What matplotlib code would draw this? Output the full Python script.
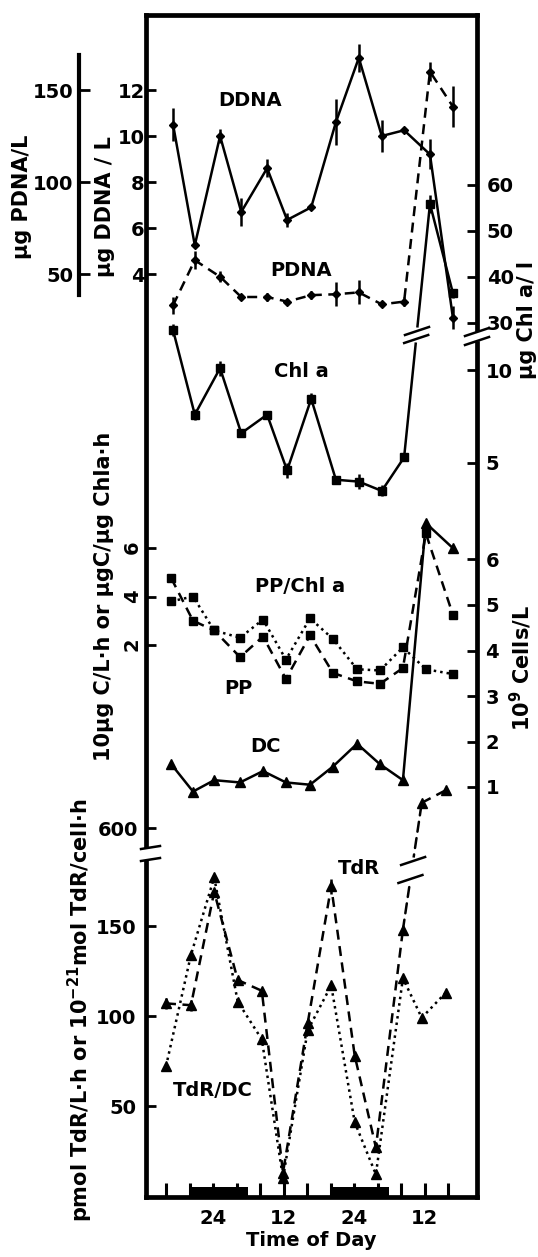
import matplotlib.pyplot as plt
from matplotlib.patches import ConnectionPatch, Rectangle
from matplotlib.lines import Line2D

plt.rcParams['font.family'] = ['DejaVu Sans']
plt.rcParams['font.weight'] = 'bold'
plt.rcParams['mathtext.default'] = 'bf'

# =========================
# DATA
# =========================
# sampling times, hours from midnight of day 1
hrs_dna = [17.2, 20.9, 25.2, 28.8, 33.2, 36.6, 40.7, 44.9, 48.8, 52.7, 56.5, 60.9, 64.8]
hrs_pp = [16.9, 20.6, 24.2, 28.6, 32.5, 36.4, 40.5, 44.4, 48.5, 52.4, 56.3, 60.2, 64.8]
hrs_tdr = [16.0, 20.25, 24.2, 28.2, 32.3, 35.9, 40.1, 44.1, 48.1, 51.7, 56.3, 59.5, 63.6]

ddna = [10.5, 5.25, 10.0, 6.7, 8.6, 6.35, 6.9, 10.6, 13.4, 10.0, 10.25, 9.2, 2.1]
ddna_err = [0.7, 0, 0.3, 0.6, 0.4, 0.3, 0, 1.0, 0.6, 0.7, 0, 0.65, 0.5]
pdna = [33, 57.5, 48.5, 37.5, 37.5, 35, 38.5, 39, 40, 33.5, 35, 160, 141]
pdna_err = [4.5, 5, 3, 0, 2, 0, 2, 6.5, 6.5, 0, 2.5, 5, 11]

# chl a: first 11 on the lower scale, last 2 above the break
chla = [12.15, 7.6, 10.1, 6.6, 7.6, 4.6, 8.45, 4.1, 4.0, 3.5, 5.3, 55.9, 36.5]
chla_err = [0.3, 0.3, 0.4, 0.2, 0.2, 0.4, 0.3, 0.2, 0.4, 0.3, 0.2, 2.0, 1.0]

pp = [4.75, 3.0, 2.6, 1.5, 2.35, 0.6, 2.4, 0.85, 0.5, 0.4, 1.05, 6.6, 3.25]
pp_chl = [3.8, 4.0, 2.6, 2.3, 3.05, 1.4, 3.1, 2.25, 1.0, 0.95, 1.9, 1.0, 0.8]
dc = [1.5, 0.9, 1.15, 1.1, 1.35, 1.1, 1.05, 1.45, 1.95, 1.5, 1.15, 6.8, 6.25]

# TdR: first 11 below the break, last 2 on the upper scale
tdr = [107, 106, 169, 120, 114, 13, 96, 172, 78, 27, 148, 614, 621]
tdr_err = [3, 3, 0, 0, 0, 0, 0, 4, 0, 0, 0, 0, 0]
tdr_dc = [72, 134, 177, 108, 87, 10, 92, 117, 41, 12, 121, 99, 113]

night_start = [20, 44]
night_end = [30, 54]
tick_hours = list(range(16, 65, 4))
tick_names = {24: "24", 36: "12", 48: "24", 60: "12"}

# =========================
# LAYOUT
# =========================
W, H = 538, 1257
X0, X1 = 146, 477
TOP, BOT = 15, 1197
XLIM = (12.6, 68.9)

fig = plt.figure(figsize=(W / 100, H / 100), dpi=100)
fig.patch.set_facecolor("white")


def fx(px):
    return (px - X0) / (X1 - X0)


def fy(py):
    return (BOT - py) / (BOT - TOP)


frame = fig.add_axes([X0 / W, 1 - BOT / H, (X1 - X0) / W, (BOT - TOP) / H])
frame.set_xlim(XLIM)
frame.set_ylim(0, 1)
frame.set_yticks([])
for s in frame.spines.values():
    s.set_linewidth(3.4)
frame.set_xticks(tick_hours)
frame.set_xticklabels([tick_names.get(h, "") for h in tick_hours])
frame.tick_params(axis='x', direction='in', length=10, width=2.2, labelsize=14, pad=9)
frame.set_xlabel("Time of Day", fontsize=14, fontweight='bold', labelpad=2)

for a, b in zip(night_start, night_end):
    frame.axvspan(a, b, ymin=0, ymax=0.0085, color='k', lw=0)

# spine breaks
for x_sp, y_a, y_b in [(0, 849, 859), (1, 332, 340)]:
    frame.add_patch(Rectangle((x_sp - 0.02, fy(y_b)), 0.04, fy(y_a) - fy(y_b),
                              transform=frame.transAxes, color='white',
                              clip_on=False, zorder=5))
for x_a, x_b, y_a, y_b in [(141, 160, 849, 846), (141, 160, 861, 858),
                           (465, 489, 336, 328), (465, 489, 345, 337)]:
    frame.add_line(Line2D([fx(x_a), fx(x_b)], [fy(y_a), fy(y_b)], color='k', lw=1.8,
                          transform=frame.transAxes, clip_on=False, zorder=6))


def panel(top, bot, ref_val, ref_px, ppu, x0=X0, x1=X1, side='left', pad=3):
    ax = fig.add_axes([x0 / W, 1 - bot / H, (x1 - x0) / W, (bot - top) / H])
    ax.set_xlim(XLIM)
    ax.set_ylim(ref_val - (bot - ref_px) / ppu, ref_val + (ref_px - top) / ppu)
    ax.patch.set_visible(False)
    for s in ax.spines.values():
        s.set_visible(False)
    ax.set_xticks([])
    if side == 'right':
        ax.yaxis.tick_right()
    ax.tick_params(axis='y', direction='in', length=7, width=2, labelsize=14, pad=pad)
    return ax


line_kw = dict(color='k', lw=1.8, clip_on=False)
solid = '-'
dashed = (0, (4, 2.6))
dotted = (0, (1, 1.6))

# ---- DNA panel
ax_dna = panel(TOP, 340, 12, 90, 23.0, pad=1)
ax_dna.set_yticks([4, 6, 8, 10, 12])
ax_dna.errorbar(hrs_dna, ddna, yerr=ddna_err, fmt='none', ecolor='k', elinewidth=1.8)
ax_dna.plot(hrs_dna, ddna, ls=solid, marker='D', ms=4.5, **line_kw)

lo, hi = ax_dna.get_ylim()
ax_pd = fig.add_axes([X0 / W, 1 - 340 / H, (X1 - X0) / W, (340 - TOP) / H])
ax_pd.set_xlim(XLIM)
ax_pd.set_ylim(lo * 12.5, hi * 12.5)
ax_pd.patch.set_visible(False)
for s in ax_pd.spines.values():
    s.set_visible(False)
ax_pd.set_xticks([])
ax_pd.set_yticks([])
ax_pd.errorbar(hrs_dna, pdna, yerr=pdna_err, fmt='none', ecolor='k', elinewidth=1.8)
ax_pd.plot(hrs_dna, pdna, ls=dashed, marker='D', ms=4.5, **line_kw)

# separate PDNA scale
ax_ps = fig.add_axes([79 / W, 1 - 340 / H, 20 / W, (340 - TOP) / H])
ax_ps.set_ylim(lo * 12.5, hi * 12.5)
ax_ps.patch.set_visible(False)
for k in ['top', 'right', 'bottom']:
    ax_ps.spines[k].set_visible(False)
ax_ps.spines['left'].set_linewidth(3)
ax_ps.spines['left'].set_bounds(38.6, 169)
ax_ps.set_xticks([])
ax_ps.set_yticks([50, 100, 150])
ax_ps.tick_params(axis='y', direction='in', length=8, width=2, labelsize=14, pad=4)

# ---- Chl a (broken right scale)
ax_cu = panel(TOP, 335, 60, 185, 4.6, side='right', pad=7)
ax_cu.set_yticks([30, 40, 50, 60])
ax_cl = panel(320, 510, 10, 370, 18.6, side='right', pad=6)
ax_cl.set_yticks([5, 10])
ax_cl.errorbar(hrs_dna[:11], chla[:11], yerr=chla_err[:11], fmt='none', ecolor='k', elinewidth=1.8)
ax_cl.plot(hrs_dna[:11], chla[:11], ls=solid, marker='s', ms=6, **line_kw)
ax_cu.errorbar(hrs_dna[11:], chla[11:], yerr=chla_err[11:], fmt='none', ecolor='k', elinewidth=1.8)
ax_cu.plot(hrs_dna[11:], chla[11:], ls=solid, marker='s', ms=6, **line_kw)

# ---- PP panel (left) and cells (right)
ax_pp = panel(520, 700, 6, 548, 24.25, pad=3)
ax_pp.set_yticks([2, 4, 6])
ax_pp.tick_params(axis='y', labelrotation=90)
ax_pp.plot(hrs_pp, pp, ls=dashed, marker='s', ms=6, **line_kw)
ax_pp.plot(hrs_pp, pp_chl, ls=dotted, marker='s', ms=6, **line_kw)

ax_dc = panel(520, 840, 1, 787, 45.5, side='right', pad=6)
ax_dc.set_yticks([1, 2, 3, 4, 5, 6])
ax_dc.plot(hrs_pp, dc, ls=solid, marker='^', ms=7, **line_kw)

# ---- TdR panel (broken left scale)
ax_tu = panel(770, 848, 600, 828, 1.8, pad=6)
ax_tu.set_yticks([600])
ax_tl = panel(860, BOT, 0, 1196, 1.8, pad=7)
ax_tl.set_yticks([50, 100, 150])
ax_tl.errorbar(hrs_tdr[:11], tdr[:11], yerr=tdr_err[:11], fmt='none', ecolor='k', elinewidth=1.8)
ax_tl.plot(hrs_tdr[:11], tdr[:11], ls=dashed, marker='^', ms=7, **line_kw)
ax_tu.plot(hrs_tdr[11:], tdr[11:], ls=dashed, marker='^', ms=7, **line_kw)
ax_tl.plot(hrs_tdr, tdr_dc, ls=dotted, marker='^', ms=7, **line_kw)


# connecting segments across the breaks
def bridge(ax_a, pa, ax_b, pb, ls, y_hi, y_lo):
    fig.add_artist(ConnectionPatch(xyA=pa, coordsA=ax_a.transData, xyB=pb,
                                   coordsB=ax_b.transData, color='k', lw=1.8,
                                   linestyle=ls, zorder=3))
    xa, ya = ax_a.transData.transform(pa)
    xb, yb = ax_b.transData.transform(pb)

    def x_at(py):
        yd = H - py
        return xa + (xb - xa) * (yd - ya) / (yb - ya)

    fig.add_artist(Line2D([x_at(y_hi) / W, x_at(y_lo) / W], [1 - y_hi / H, 1 - y_lo / H],
                          color='white', lw=5, zorder=4))
    for py in (y_hi, y_lo):
        xc = x_at(py)
        fig.add_artist(Line2D([(xc - 12) / W, (xc + 12) / W], [1 - (py + 4) / H, 1 - (py - 4) / H],
                              color='k', lw=1.8, zorder=5))


bridge(ax_cl, (hrs_dna[10], chla[10]), ax_cu, (hrs_dna[11], chla[11]), '-', 331, 339)
bridge(ax_tl, (hrs_tdr[10], tdr[10]), ax_tu, (hrs_tdr[11], tdr[11]), (0, (4, 2.6)), 861, 879)

# =========================
# TEXT
# =========================
def ftext(px, py, s, size=14, rot=0):
    fig.text(px / W, 1 - py / H, s, fontsize=size, fontweight='bold', rotation=rot,
             ha='center', va='center')


ftext(250, 100, "DDNA")
ftext(301, 270, "PDNA")
ftext(301, 372, "Chl a")
ftext(300, 586, "PP/Chl a")
ftext(238, 688, "PP")
ftext(265, 747, "DC")
ftext(359, 868, "TdR")
ftext(213, 1090, "TdR/DC")

ftext(22, 197, "µg PDNA/L", 15, 90)
ftext(105, 207, "µg DDNA / L", 15, 90)
ftext(104, 596, "10µg C/L·h or µgC/µg Chla·h", 15, 90)
ftext(80, 1010, "pmol TdR/L·h or 10$^{-21}$mol TdR/cell·h", 15, 90)
ftext(527, 320, "µg Chl a/ l", 15, 90)
ftext(521, 668, "10$^9$ Cells/L", 15, 90)

plt.savefig("out.png", dpi=100)
plt.close()
